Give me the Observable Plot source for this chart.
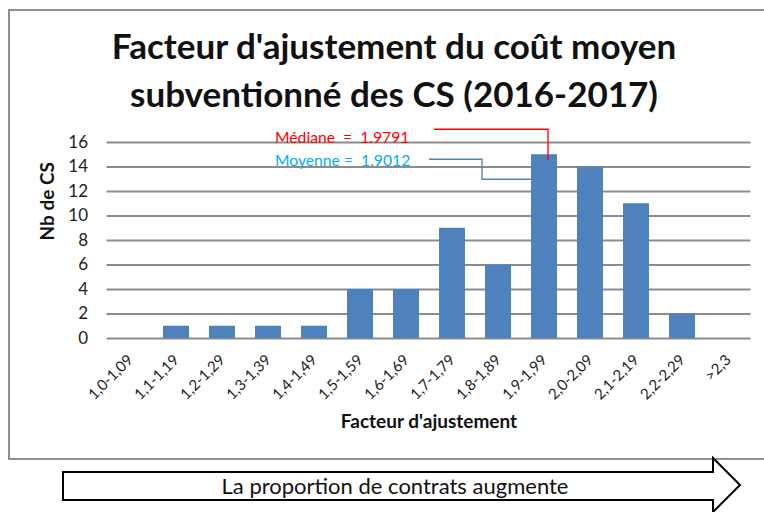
<!DOCTYPE html>
<html><head><meta charset="utf-8">
<script src="https://cdn.jsdelivr.net/npm/d3@7"></script>
<script src="https://cdn.jsdelivr.net/npm/@observablehq/plot@0.6"></script>
<style>
body{margin:0;background:#fff;font-family:Lato,sans-serif}
#wrap{position:relative;width:764px;height:512px;overflow:hidden;background:#fff}
#box{position:absolute;left:8px;top:9px;width:800px;height:447px;border:2px solid #8f8f8f}
#title{position:absolute;left:0;top:21px;width:788px;text-align:center;font:bold 35px/48px Lato,sans-serif;color:#111}
#chart{position:absolute;left:0;top:115px}
#arrow{position:absolute;left:0;top:440px}
</style></head><body>
<div id="wrap">
<div id="box"></div>
<div id="title">Facteur d'ajustement du coût moyen<br>subventionné des CS (2016-2017)</div>
<div id="chart"></div>
<svg id="arrow" width="764" height="72">
<polygon points="63,32 713,32 713,18 740,45 713,72 713,60 63,60" fill="#fff" stroke="#000" stroke-width="2"/>
<text x="395" y="54" text-anchor="middle" font-family="Lato, sans-serif" font-size="22" fill="#111">La proportion de contrats augmente</text>
</svg>
</div>
<script>
const categories = ["1,0-1,09","1,1-1,19","1,2-1,29","1,3-1,39","1,4-1,49","1,5-1,59","1,6-1,69","1,7-1,79","1,8-1,89","1,9-1,99","2,0-2,09","2,1-2,19","2,2-2,29",">2,3"];
const counts = [0,1,1,1,1,4,4,9,6,15,14,11,2,0];
const yTicks = [0,2,4,6,8,10,12,14,16];
const yLabel = "Nb de CS";
const xLabel = "Facteur d'ajustement";
const medianLabel = "Médiane  =  1.9791";
const meanLabel = "Moyenne =  1.9012";
const annotationBin = "1,9-1,99";

const data = categories.map((c, i) => ({cat: c, n: counts[i]}));

function annotations(index, scales) {
  const x0 = scales.x(annotationBin);
  const bw = scales.x.bandwidth ? scales.x.bandwidth() : 0;
  const yTop = scales.y(counts[categories.indexOf(annotationBin)]);
  const g = d3.create("svg:g").attr("font-family", "Lato, sans-serif").attr("font-size", 15.7)
    .attr("text-anchor", "start").style("white-space", "pre");
  const cx = x0 + bw / 2 + 4;
  g.append("path").attr("d", `M${x0 - 97},${yTop - 25}H${cx}V${yTop + 6}`)
    .attr("fill", "none").attr("stroke", "#FF0000").attr("stroke-width", 1.3);
  g.append("text").attr("x", x0 - 256).attr("y", yTop - 11.5).attr("fill", "#FF0000").text(medianLabel);
  g.append("path").attr("d", `M${x0 - 102},${yTop + 5}H${x0 - 49}V${yTop + 25}H${x0}`)
    .attr("fill", "none").attr("stroke", "#4F81BD").attr("stroke-width", 1.3);
  g.append("text").attr("x", x0 - 256).attr("y", yTop + 11.5).attr("fill", "#00B0F0").text(meanLabel);
  return g.node();
}

const chart = Plot.plot({
  width: 764, height: 330,
  marginLeft: 106.5, marginRight: 13.5, marginTop: 27, marginBottom: 107,
  style: {fontFamily: "Lato, sans-serif", background: "transparent", overflow: "visible", color: "#222"},
  x: {domain: categories, paddingInner: 0.445, paddingOuter: 0.2225, label: null},
  y: {domain: [0, 16], label: null},
  marks: [
    Plot.ruleY(yTicks, {stroke: "#8c8c8c", strokeWidth: 2}),
    Plot.barY(data, {x: "cat", y: "n", fill: "#4F81BD"}),
    Plot.axisY({ticks: yTicks, tickSize: 0, tickPadding: 19, fontSize: 17, label: null}),
    Plot.axisX({tickSize: 0, tickRotate: -45, tickPadding: 19, fontSize: 15, label: null}),
    Plot.text([yLabel], {text: d => d, frameAnchor: "left", rotate: -90, dx: -59.5, fontWeight: "bold", fontSize: 19, fill: "#111"}),
    Plot.text([xLabel], {text: d => d, frameAnchor: "bottom", dy: 89, fontWeight: "bold", fontSize: 19, fill: "#111"}),
    annotations
  ]
});
document.getElementById("chart").appendChild(chart);
</script>
</body></html>
